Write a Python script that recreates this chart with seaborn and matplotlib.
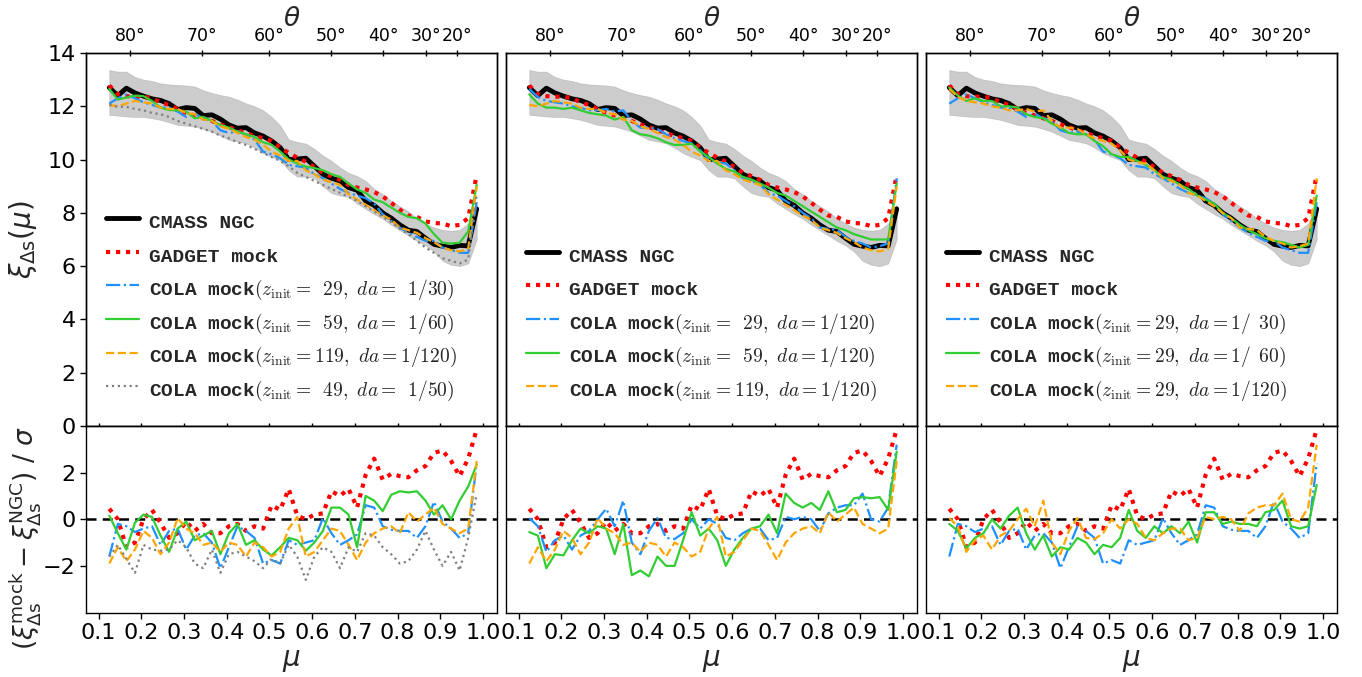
import numpy as np
import matplotlib
matplotlib.use("Agg")
import matplotlib.pyplot as plt
from matplotlib.font_manager import FontProperties
import seaborn as sns

# ---------------------------------------------------------------- data
mu = [0.125, 0.145, 0.165, 0.185, 0.205, 0.225, 0.245, 0.265, 0.285, 0.305,
      0.325, 0.345, 0.365, 0.385, 0.405, 0.425, 0.445, 0.465, 0.485, 0.505,
      0.525, 0.545, 0.565, 0.585, 0.605, 0.625, 0.645, 0.665, 0.685, 0.705,
      0.725, 0.745, 0.765, 0.785, 0.805, 0.825, 0.845, 0.865, 0.885, 0.905,
      0.925, 0.945, 0.965, 0.985]

# CMASS NGC measurement and the mock scatter band around it
ngc = [12.70, 12.40, 12.68, 12.50, 12.38, 12.28, 12.22, 12.10, 11.88, 11.95,
       11.92, 11.65, 11.68, 11.52, 11.30, 11.18, 11.20, 11.00, 10.88, 10.70,
       10.45, 10.00, 10.02, 10.05, 9.75, 9.45, 9.30, 9.20, 8.95, 8.85,
       8.45, 8.28, 8.00, 7.80, 7.55, 7.35, 7.30, 7.05, 6.82, 6.75,
       6.70, 6.78, 6.76, 8.15]
band_hi = [13.36, 13.30, 13.30, 13.10, 13.00, 12.95, 12.86, 12.82, 12.80, 12.78,
           12.74, 12.60, 12.50, 12.42, 12.36, 12.25, 12.11, 12.00, 11.85, 11.60,
           11.28, 10.75, 10.66, 10.60, 10.40, 10.15, 9.95, 9.70, 9.50, 9.38,
           9.20, 8.90, 8.70, 8.45, 8.25, 8.05, 7.80, 7.60, 7.45, 7.36,
           7.33, 7.36, 7.60, 8.30]
band_lo = [11.68, 11.65, 11.62, 11.60, 11.60, 11.55, 11.49, 11.40, 11.30, 11.27,
           11.24, 11.15, 11.05, 10.90, 10.74, 10.68, 10.61, 10.45, 10.24, 10.10,
           9.98, 9.60, 9.36, 9.36, 9.30, 9.00, 8.74, 8.65, 8.60, 8.35,
           8.15, 7.95, 7.78, 7.55, 7.35, 7.15, 6.95, 6.78, 6.55, 6.20,
           6.05, 6.00, 6.10, 7.00]

# GADGET mock
gadget = [12.78, 12.45, 12.38, 12.36, 12.36, 12.30, 12.15, 12.05, 11.90, 11.75,
          11.66, 11.55, 11.45, 11.32, 11.22, 11.10, 11.00, 10.88, 10.80, 10.70,
          10.45, 10.25, 10.07, 9.92, 9.72, 9.50, 9.38, 9.24, 9.05, 8.95,
          8.88, 8.78, 8.62, 8.38, 8.12, 7.90, 7.85, 7.68, 7.62, 7.60,
          7.50, 7.55, 7.80, 9.42]
gadget_res = [0.45, 0.0, -1.2, -1.0, 0.0, 0.4, -0.15, -0.8, -0.6, -0.1,
              -0.5, -0.2, -0.6, -0.6, -0.3, -0.2, -0.5, -0.3, -0.4, 0.6,
              0.4, 1.3, 0.15, 0.0, 0.2, 0.25, 1.2, 1.0, 1.3, 0.5,
              1.9, 2.6, 1.7, 1.95, 1.85, 1.8, 2.1, 2.28, 2.85, 2.95,
              2.5, 1.85, 2.6, 3.85]

# COLA mocks: z_init = 29, da = 1/30
cola_z29_a30 = [12.10, 12.30, 12.45, 12.30, 12.15, 12.05, 11.95, 11.95, 11.80, 11.60,
                11.72, 11.55, 11.45, 11.10, 11.00, 11.05, 10.95, 10.75, 10.30, 10.20,
                10.05, 9.80, 9.75, 9.70, 9.45, 9.30, 9.10, 8.90, 8.75, 8.65,
                8.55, 8.35, 7.95, 7.70, 7.45, 7.25, 7.10, 6.95, 6.95, 6.70,
                6.60, 6.50, 6.50, 8.40]
cola_z29_a30_res = [-1.6, -0.2, -0.3, -0.55, -0.4, -0.3, -1.1, -0.5, -0.4, -1.3,
                    -0.7, -0.6, -1.0, -2.1, -1.2, -0.3, -0.5, -0.8, -1.9, -1.75,
                    -1.9, -0.9, -1.1, -1.0, -0.9, 0.05, -0.6, -1.1, -0.9, -0.65,
                    0.6, 0.5, -0.3, -0.45, -0.5, -0.5, -0.8, -0.3, 0.75, -0.1,
                    -0.4, -0.8, -0.6, 2.4]

# z_init = 59, da = 1/60
cola_z59_a60 = [12.65, 12.25, 12.33, 12.40, 12.38, 12.20, 11.95, 11.86, 11.85, 11.80,
                11.55, 11.60, 11.45, 11.30, 11.20, 11.05, 10.95, 10.85, 10.65, 10.55,
                10.30, 10.00, 9.85, 9.74, 9.68, 9.60, 9.45, 9.35, 9.10, 8.88,
                8.75, 8.50, 8.40, 8.20, 8.00, 7.85, 7.80, 7.60, 7.20, 6.88,
                6.85, 6.88, 7.30, 9.05]
cola_z59_a60_res = [0.15, -0.6, -1.3, -0.15, 0.2, 0.1, -0.7, -1.4, -0.4, -0.1,
                    -0.9, -0.7, -0.5, -1.5, -0.6, -0.2, -1.1, -0.9, -1.3, -1.55,
                    -1.2, -0.8, -0.9, -1.35, -1.0, -0.5, 0.5, 0.5, 0.2, -1.2,
                    1.0, 0.8, 0.35, 1.05, 1.2, 1.15, 1.2, 0.8, 0.2, 0.6,
                    0.0, 0.8, 1.4, 2.35]

# z_init = 119, da = 1/120
cola_z119_a120 = [12.05, 12.00, 12.10, 12.20, 12.15, 12.10, 11.95, 11.90, 11.90, 11.75,
                  11.70, 11.50, 11.45, 11.25, 11.15, 11.00, 10.85, 10.75, 10.55, 10.30,
                  10.15, 9.95, 9.95, 9.60, 9.45, 9.25, 9.15, 9.05, 8.70, 8.50,
                  8.30, 8.10, 7.90, 7.75, 7.45, 7.35, 7.25, 7.05, 6.90, 6.70,
                  6.60, 6.55, 6.65, 9.00]
cola_z119_a120_res = [-1.9, -1.2, -1.8, -1.3, -0.5, -0.8, -1.5, -1.0, 0.05, -0.4,
                      -0.6, -1.1, -1.0, -1.4, -1.0, -1.1, -1.6, -1.0, -1.2, -1.6,
                      -1.4, -0.4, 0.1, -1.6, -1.4, -0.9, -0.4, -0.5, -1.1, -1.75,
                      -1.0, -0.6, -0.4, -0.3, -0.6, 0.3, -0.1, 0.2, 0.5, -0.2,
                      -0.4, -0.6, -0.4, 2.5]

# z_init = 49, da = 1/50
cola_z49_a50 = [12.05, 11.98, 11.98, 11.90, 11.85, 11.75, 11.70, 11.60, 11.45, 11.35,
                11.25, 11.15, 11.05, 10.90, 10.80, 10.65, 10.55, 10.40, 10.25, 10.10,
                9.95, 9.75, 9.50, 9.35, 9.20, 9.05, 8.90, 8.75, 8.60, 8.45,
                8.25, 8.05, 7.85, 7.65, 7.40, 7.20, 6.95, 6.70, 6.50, 6.30,
                6.20, 6.10, 6.25, 8.70]
cola_z49_a50_res = [-1.6, -1.1, -1.7, -2.3, -1.1, -1.3, -1.35, -1.3, -0.9, -1.2,
                    -1.9, -2.1, -1.3, -2.3, -1.5, -1.4, -1.6, -1.8, -2.1, -1.7,
                    -1.9, -1.1, -1.6, -2.6, -1.6, -1.2, -1.4, -2.1, -1.2, -1.4,
                    -0.6, -0.7, -1.2, -1.5, -1.9, -1.8, -1.3, -0.5, -1.3, -2.0,
                    -1.4, -2.2, -0.8, 1.1]

# z_init = 29, da = 1/120
cola_z29_a120 = [12.65, 12.35, 12.20, 12.15, 12.10, 12.00, 11.95, 11.85, 11.85, 11.90,
                 11.80, 11.85, 11.45, 11.20, 11.20, 11.15, 10.95, 10.80, 10.70, 10.60,
                 10.35, 10.00, 9.90, 9.85, 9.60, 9.30, 9.20, 9.05, 8.75, 8.65,
                 8.45, 8.25, 8.00, 7.80, 7.45, 7.40, 7.35, 7.10, 6.95, 6.85,
                 6.70, 6.75, 6.85, 9.30]
cola_z29_a120_res = [0.05, -0.3, -1.4, -0.9, -0.7, -1.3, -0.7, -0.5, 0.0, 0.45,
                     -0.3, 0.8, -1.0, -1.5, -0.5, 0.05, -0.8, -0.85, -0.6, 0.0,
                     -0.4, 0.0, -0.2, -0.8, -0.9, -0.6, -0.4, -0.4, -0.9, -0.8,
                     0.1, 0.0, 0.1, 0.0, -0.5, 0.25, 0.5, 0.6, 0.6, 1.1,
                     0.0, -0.1, 0.5, 3.2]

# z_init = 59, da = 1/120
cola_z59_a120 = [12.45, 12.10, 11.95, 11.95, 11.90, 11.95, 11.85, 11.75, 11.70, 11.65,
                 11.50, 11.60, 11.10, 10.95, 10.90, 10.80, 10.65, 10.55, 10.55, 10.60,
                 10.30, 10.10, 9.85, 9.65, 9.55, 9.35, 9.25, 9.10, 8.95, 8.75,
                 8.65, 8.45, 8.25, 8.05, 7.85, 7.65, 7.45, 7.35, 7.20, 7.10,
                 7.00, 7.00, 7.00, 9.10]
cola_z59_a120_res = [-0.55, -0.7, -2.1, -1.5, -1.55, -0.9, -0.4, -0.6, -0.3, -0.4,
                     -1.5, -0.2, -2.4, -2.2, -2.45, -1.6, -2.0, -2.0, -0.9, 0.3,
                     -0.7, -0.4, -0.9, -2.0, -1.3, -0.8, -0.4, -0.3, 0.2, -0.6,
                     1.1, 0.7, 0.5, 0.7, 0.4, 1.2, 0.3, 0.4, 0.9, 0.95,
                     0.9, 0.95, 0.4, 2.9]

# z_init = 29, da = 1/60
cola_z29_a60 = [12.70, 12.40, 12.20, 12.30, 12.20, 12.20, 12.00, 12.00, 11.95, 11.70,
                11.60, 11.55, 11.35, 11.20, 11.00, 10.95, 10.95, 10.70, 10.50, 10.20,
                10.10, 10.10, 9.95, 9.80, 9.60, 9.35, 9.25, 9.05, 8.90, 8.65,
                8.50, 8.35, 8.00, 7.80, 7.55, 7.35, 7.20, 7.05, 6.95, 6.90,
                6.80, 6.70, 6.80, 8.65]
cola_z29_a60_res = [-0.2, -0.5, -1.25, -0.8, -0.6, 0.0, -0.4, 0.15, 0.5, -0.6,
                    -1.3, -0.7, -1.6, -1.2, -1.3, -0.8, -1.0, -1.5, -1.1, -1.2,
                    -0.8, 0.4, -0.5, -0.8, -0.3, -0.6, -0.3, -0.6, -0.1, -1.0,
                    0.3, 0.3, -0.2, -0.1, -0.2, -0.2, -0.3, 0.3, 0.4, 0.8,
                    -0.3, -0.4, -0.3, 1.47]

theta_ticks = [80, 70, 60, 50, 40, 30, 20]

# ---------------------------------------------------------------- style
sns.set_theme(style="ticks")
plt.rcParams.update({
    "font.family": ["DejaVu Sans"],
    "mathtext.fontset": "dejavusans",
    "axes.edgecolor": "black",
    "axes.linewidth": 1.0,
    "xtick.color": "black",
    "ytick.color": "black",
    "xtick.labelsize": 16,
    "ytick.labelsize": 16,
    "xtick.major.size": 4,
    "ytick.major.size": 4,
    "xtick.major.width": 1.0,
    "ytick.major.width": 1.0,
})

BLUE, GREEN, ORANGE, GREY = "dodgerblue", "limegreen", "orange", "gray"
STY = {"blue": (BLUE, "-."), "green": (GREEN, "-"), "orange": (ORANGE, "--"), "grey": (GREY, ":")}

lbl_29_30 = r"COLA mock$(z_{\rm init} =\enspace 29,\ da =\enspace 1/30)$"
lbl_59_60 = r"COLA mock$(z_{\rm init} =\enspace 59,\ da =\enspace 1/60)$"
lbl_119_120 = r"COLA mock$(z_{\rm init} = 119,\ da = 1/120)$"
lbl_49_50 = r"COLA mock$(z_{\rm init} =\enspace 49,\ da =\enspace 1/50)$"

panels = [
    [(cola_z29_a30, cola_z29_a30_res, "blue", lbl_29_30),
     (cola_z59_a60, cola_z59_a60_res, "green", lbl_59_60),
     (cola_z119_a120, cola_z119_a120_res, "orange", lbl_119_120),
     (cola_z49_a50, cola_z49_a50_res, "grey", lbl_49_50)],
    [(cola_z29_a120, cola_z29_a120_res, "blue",
      r"COLA mock$(z_{\rm init} =\enspace 29,\ da = 1/120)$"),
     (cola_z59_a120, cola_z59_a120_res, "green",
      r"COLA mock$(z_{\rm init} =\enspace 59,\ da = 1/120)$"),
     (cola_z119_a120, cola_z119_a120_res, "orange", lbl_119_120)],
    [(cola_z29_a30, cola_z29_a30_res, "blue",
      r"COLA mock$(z_{\rm init} = 29,\ da = 1/\enspace 30)$"),
     (cola_z29_a60, cola_z29_a60_res, "green",
      r"COLA mock$(z_{\rm init} = 29,\ da = 1/\enspace 60)$"),
     (cola_z29_a120, cola_z29_a120_res, "orange",
      r"COLA mock$(z_{\rm init} = 29,\ da = 1/120)$")],
]

W, H = 1362, 677
fig = plt.figure(figsize=(W / 100, H / 100), dpi=100)

lefts = [86, 506, 926]
pw = 411
top_y0, top_y1 = 53, 426
bot_y1 = 612.5
xlim = (0.0705, 1.0325)
red_dots = (0, (1, 1.4))

leg_font = FontProperties(family="Liberation Mono", weight="bold", size=14,
                          math_fontfamily="cm")

for i, (left, series) in enumerate(zip(lefts, panels)):
    ax = fig.add_axes([left / W, (H - top_y1) / H, pw / W, (top_y1 - top_y0) / H])
    axr = fig.add_axes([left / W, (H - bot_y1) / H, pw / W, (bot_y1 - top_y1) / H],
                       sharex=ax)

    # upper panel: correlation-function shape
    ax.fill_between(mu, band_lo, band_hi, color="0.5", alpha=0.4, lw=0.6,
                    edgecolor="0.6")
    sns.lineplot(x=mu, y=ngc, ax=ax, color="black", lw=3.5, label="CMASS NGC",
                 sort=False, errorbar=None)
    sns.lineplot(x=mu, y=gadget, ax=ax, color="red", lw=3, linestyle=red_dots,
                 label="GADGET mock", sort=False, errorbar=None)
    for vals, _, key, lab in series:
        c, ls = STY[key]
        sns.lineplot(x=mu, y=vals, ax=ax, color=c, lw=1.6, linestyle=ls,
                     label=lab, sort=False, errorbar=None)

    # lower panel: normalised residuals
    axr.axhline(0, color="black", lw=1.8, ls=(0, (4, 2.5)))
    sns.lineplot(x=mu, y=gadget_res, ax=axr, color="red", lw=3,
                 linestyle=red_dots, sort=False, errorbar=None)
    for _, res, key, _ in series:
        c, ls = STY[key]
        sns.lineplot(x=mu, y=res, ax=axr, color=c, lw=1.6, linestyle=ls,
                     sort=False, errorbar=None)

    ax.set_xlim(*xlim)
    ax.set_ylim(0, 14)
    ax.set_yticks(range(0, 15, 2))
    axr.set_ylim(-4, 4)
    axr.set_yticks([-2, 0, 2])
    axr.set_xticks(np.round(np.arange(0.1, 1.01, 0.1), 1))
    axr.set_xticklabels([f"{v:.1f}" for v in np.arange(0.1, 1.01, 0.1)])
    ax.tick_params(axis="x", labelbottom=False, direction="inout", length=5)
    axr.set_xlabel(r"$\mu$", fontsize=20, labelpad=2)
    ax.set_xlabel("")

    for a in (ax, axr):
        for sp in a.spines.values():
            sp.set_visible(True)
            sp.set_color("black")

    if i == 0:
        ax.set_ylabel(r"$\xi_{\Delta \rm s}(\mu)$", fontsize=20, labelpad=6)
        axr.set_ylabel(r"$(\xi^{\rm mock}_{\Delta \rm s} - \xi^{\rm NGC}_{\Delta \rm s})\ /\ \sigma$",
                       fontsize=19)
        axr.yaxis.set_label_coords(-0.105, 0.40)
    else:
        ax.tick_params(axis="y", labelleft=False, length=0)
        axr.tick_params(axis="y", labelleft=False, length=0)
        ax.set_ylabel("")
        axr.set_ylabel("")

    # angle axis on top
    axt = ax.twiny()
    axt.set_xlim(*xlim)
    axt.set_xticks(np.cos(np.radians(theta_ticks)))
    axt.set_xticklabels([f"{t}°" for t in theta_ticks])
    axt.tick_params(axis="x", direction="inout", length=5, labelsize=12.5, pad=3)
    axt.set_xlabel(r"$\theta$", fontsize=19, labelpad=1)

    # legend: tall handle boxes keep every row the same height
    ax.legend(loc="lower left", bbox_to_anchor=(0.02, 0.03), frameon=False,
              prop=leg_font, handlelength=1.7, handletextpad=0.5,
              handleheight=1.75, labelspacing=0.345, borderaxespad=0.2)

fig.savefig("out.png", dpi=100)
